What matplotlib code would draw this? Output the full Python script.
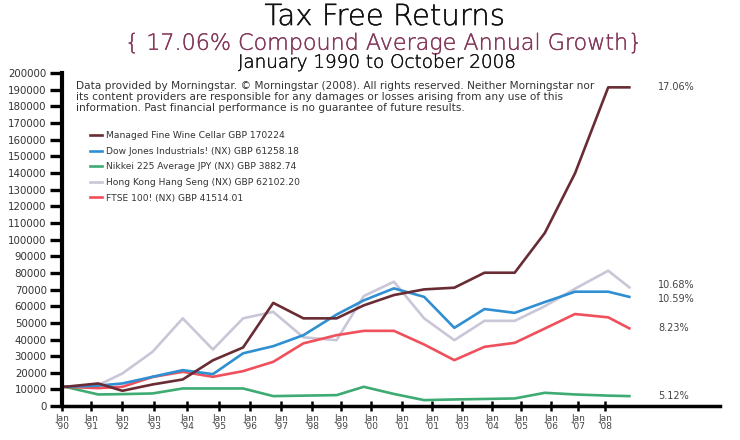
import matplotlib
matplotlib.use('Agg')
import matplotlib.pyplot as plt
import matplotlib.patheffects as pe

plt.rcParams['font.family'] = ['DejaVu Sans']

# x positions of the yearly points (fractional years)
years = [1990.1, 1991.2, 1992.0, 1993.0, 1994.0, 1995.0, 1996.0, 1997.0, 1998.0, 1999.1,
         2000.0, 2001.0, 2002.0, 2003.0, 2004.0, 2005.0, 2006.0, 2007.0, 2008.1, 2008.8]

wine = [11600, 13600, 9200, 13000, 16000, 27500, 35200, 62000, 52700, 52700,
        60500, 66700, 70100, 71100, 80100, 80100, 104000, 139800, 191400, 191400]
dow = [11600, 12300, 13600, 17600, 21600, 19200, 31700, 36000, 42600, 55000,
       63500, 70700, 65600, 47000, 58300, 56000, 62500, 68700, 68700, 65600]
nikkei = [11600, 7000, 7200, 7600, 10600, 10600, 10600, 6000, 6300, 6600,
          11600, 7300, 3600, 4000, 4300, 4600, 8000, 7000, 6300, 6000]
hangseng = [11600, 12600, 19600, 32600, 52700, 34000, 52700, 56600, 41300, 39600,
            66100, 74700, 52700, 39600, 51200, 51200, 60000, 70500, 81300, 71300]
ftse = [11600, 10800, 11600, 17500, 20600, 17600, 21000, 26600, 37700, 42600,
        45200, 45200, 37000, 27600, 35600, 38000, 46600, 55300, 53300, 46700]

labels = ['Managed Fine Wine Cellar GBP 170224',
          'Dow Jones Industrials! (NX) GBP 61258.18',
          'Nikkei 225 Average JPY (NX) GBP 3882.74',
          'Hong Kong Hang Seng (NX) GBP 62102.20',
          'FTSE 100! (NX) GBP 41514.01']
end_labels = ['17.06%', '10.59%', '5.12%', '10.68%', '8.23%']
colors = ['#6a2c34', '#2f8fd2', '#3eab72', '#c9c6d8', '#f0505c']

# tick positions (irregular in the original) and their labels
tick_pos = [1990.0, 1990.96, 1991.99, 1993.05, 1994.14, 1995.2, 1996.23, 1997.26, 1998.29,
            1999.25, 2000.24, 2001.27, 2002.26, 2003.26, 2004.25, 2005.21, 2006.21, 2007.1, 2008.0]
tick_lbl = ["Jan\n'90", "Jan\n'91", "Jan\n'92", "Jan\n'93", "Jan\n'94", "Jan\n'95", "Jan\n'96",
            "Jan\n'97", "Jan\n'98", "Jan\n'99", "Jan\n'00", "Jan\n'01", "Jan\n'01", "Jan\n'03",
            "Jan\n'04", "Jan\n'05", "Jan\n'06", "Jan\n'07", "Jan\n'08"]

fig = plt.figure(figsize=(7.4, 4.4), dpi=100)
ax = fig.add_axes([0.0838, 0.077, 0.889, 0.757])

series = [wine, dow, nikkei, hangseng, ftse]
# draw order: gray behind, wine on top
order = [3, 2, 4, 1, 0]
lines = {}
for i in order:
    lines[i], = ax.plot(years, series[i], color=colors[i], lw=1.9, label=labels[i])

# end-of-line percentage labels
end_y = [191400, 64500, 6000, 72500, 46700]
for i in range(5):
    ax.text(2009.75, end_y[i], end_labels[i], fontsize=7, color='#444444', va='center')

ax.set_xlim(1990.0, 2011.8)
ax.set_ylim(0, 200000)
ax.set_yticks(range(0, 200001, 10000))
ax.set_yticklabels([str(v) for v in range(0, 200001, 10000)], fontsize=7.4, color='#333333')
ax.set_xticks(tick_pos)
ax.set_xticklabels(tick_lbl, fontsize=6.5, color='#444444', linespacing=0.95)

for s in ['top', 'right']:
    ax.spines[s].set_visible(False)
ax.spines['left'].set_linewidth(3)
ax.spines['bottom'].set_linewidth(2.5)
ax.tick_params(axis='y', direction='out', length=9, width=2.4, pad=2)
ax.tick_params(axis='x', direction='inout', length=7, width=1.8, pad=2)

leg = ax.legend([lines[i] for i in range(5)], labels, loc='upper left',
                bbox_to_anchor=(0.03, 0.85), frameon=False, fontsize=6.6,
                handlelength=1.3, handletextpad=0.4, labelspacing=0.72)
for t in leg.get_texts():
    t.set_color('#333333')

fig.text(0.103, 0.815,
         "Data provided by Morningstar. \u00a9 Morningstar (2008). All rights reserved. Neither Morningstar nor\n"
         "its content providers are responsible for any damages or losses arising from any use of this\n"
         "information. Past financial performance is no guarantee of future results.",
         fontsize=7.6, color='#333333', va='top', linespacing=1.12)

thick = [pe.withStroke(linewidth=0.25, foreground='#111111')]
fig.text(0.52, 0.943, 'Tax Free Returns', fontsize=21, fontweight='light', ha='center',
         va='baseline', color='#111111', path_effects=thick)
fig.text(0.519, 0.887, '{ 17.06% Compound Average Annual Growth}', fontsize=16,
         fontweight='light', ha='center', va='baseline', color='#84375a',
         path_effects=[pe.withStroke(linewidth=0.25, foreground='#84375a')])
fig.text(0.51, 0.846, 'January 1990 to October 2008', fontsize=13.2, fontweight='light',
         ha='center', va='baseline', color='#111111', path_effects=thick)

fig.savefig('out.png', dpi=100)
